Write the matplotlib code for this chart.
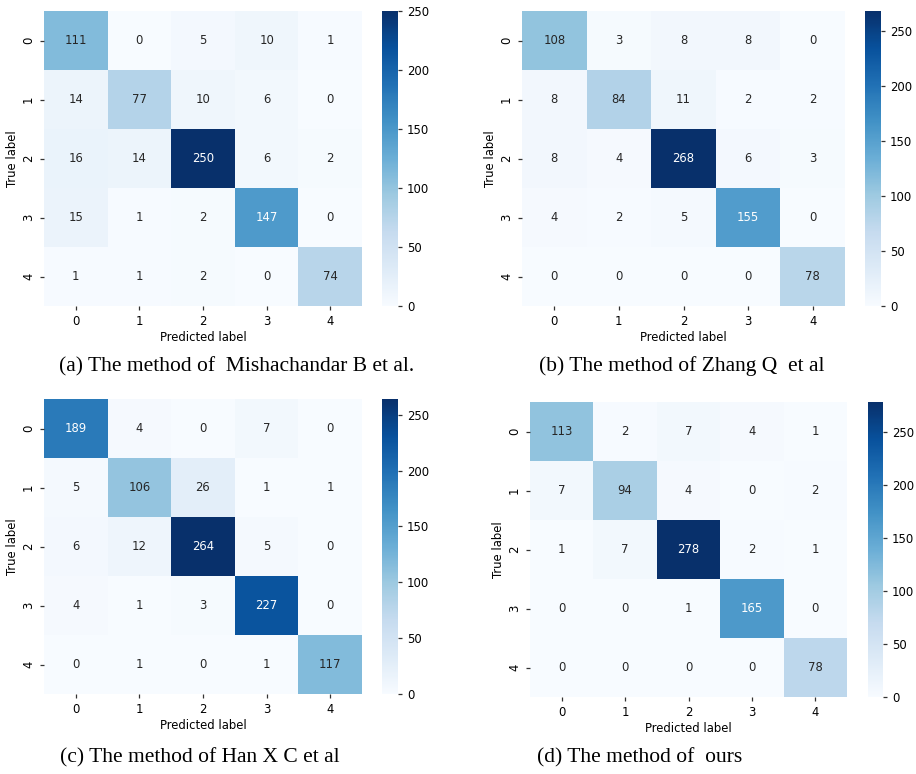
import numpy as np
import matplotlib
matplotlib.use("Agg")
import matplotlib.pyplot as plt
import seaborn as sns

labels = ["0", "1", "2", "3", "4"]

cm_a = [[111, 0, 5, 10, 1],
        [14, 77, 10, 6, 0],
        [16, 14, 250, 6, 2],
        [15, 1, 2, 147, 0],
        [1, 1, 2, 0, 74]]
cm_b = [[108, 3, 8, 8, 0],
        [8, 84, 11, 2, 2],
        [8, 4, 268, 6, 3],
        [4, 2, 5, 155, 0],
        [0, 0, 0, 0, 78]]
cm_c = [[189, 4, 0, 7, 0],
        [5, 106, 26, 1, 1],
        [6, 12, 264, 5, 0],
        [4, 1, 3, 227, 0],
        [0, 1, 0, 1, 117]]
cm_d = [[113, 2, 7, 4, 1],
        [7, 94, 4, 0, 2],
        [1, 7, 278, 2, 1],
        [0, 0, 1, 165, 0],
        [0, 0, 0, 0, 78]]

captions = ["(a) The method of  Mishachandar B et al.",
            "(b) The method of Zhang Q  et al",
            "(c) The method of Han X C et al",
            "(d) The method of  ours"]

W, H = 916, 774
fig = plt.figure(figsize=(W / 100, H / 100), dpi=100)

# pixel boxes: heatmap (l, r, t, b), colorbar (l, r), caption (cx, cy)
panels = [
    (cm_a, (44, 362, 11, 306), (382, 398), (237, 367)),
    (cm_b, (522, 845, 11, 306), (865, 881), (682, 366)),
    (cm_c, (44, 362, 399, 694), (382, 398), (200, 758)),
    (cm_d, (530, 847, 402, 697), (868, 883), (640, 758)),
]

def box(l, r, t, b):
    return [l / W, 1 - b / H, (r - l) / W, (b - t) / H]

fs = 8.4
for (cm, (l, r, t, b), (cl, cr), (cx, cy)), cap in zip(panels, captions):
    ax = fig.add_axes(box(l, r, t, b))
    cax = fig.add_axes(box(cl, cr, t, b))
    data = np.array(cm)
    sns.heatmap(data, ax=ax, cbar_ax=cax, cmap="Blues", annot=True, fmt="d",
                annot_kws={"fontsize": fs},
                xticklabels=labels, yticklabels=labels)
    ax.set_xlabel("Predicted label", fontsize=fs, labelpad=2)
    ax.set_ylabel("True label", fontsize=fs, labelpad=2)
    ax.tick_params(labelsize=fs, length=3, width=0.9, color="#333333")
    plt.setp(ax.get_yticklabels(), rotation=90, va="center")
    plt.setp(ax.get_xticklabels(), rotation=0)
    cax.tick_params(labelsize=fs, length=3, width=0.9, color="#333333")
    cax.set_yticks([0, 50, 100, 150, 200, 250])
    fig.text(cx / W, 1 - cy / H, cap, ha="center", va="center",
             fontsize=15.5, family="Liberation Serif")

fig.savefig("out.png", dpi=100)
